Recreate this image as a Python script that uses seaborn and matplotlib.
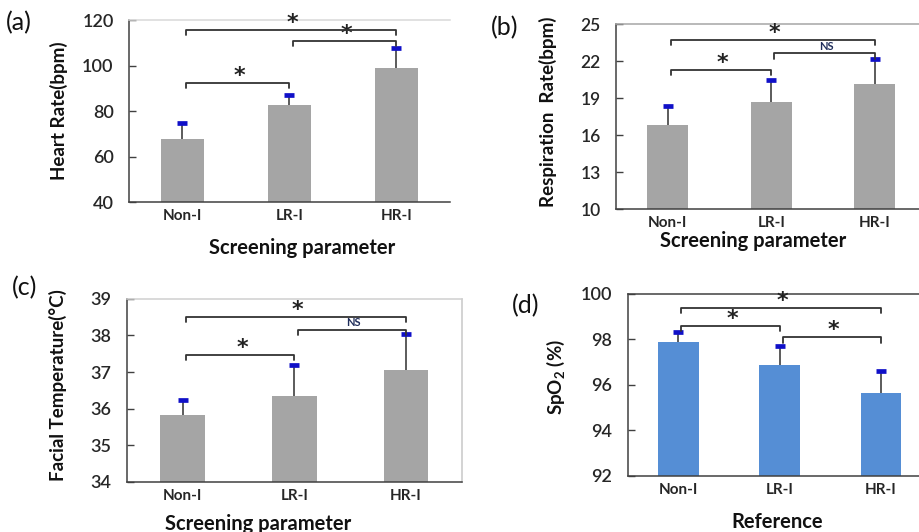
import numpy as np
import pandas as pd
import seaborn as sns
import matplotlib.pyplot as plt

# datos
groups = ["Non-I", "LR-I", "HR-I"]

hr_mean = [67.6, 82.6, 98.9]
hr_err = [7.3, 4.4, 8.7]
rr_mean = [16.8, 18.7, 20.1]
rr_err = [1.55, 1.75, 2.1]
ft_mean = [35.83, 36.35, 37.05]
ft_err = [0.42, 0.84, 0.98]
spo2_mean = [97.87, 96.87, 95.64]
spo2_err = [0.44, 0.84, 0.97]

# corchetes de significancia: (grupo1, grupo2, altura, etiqueta)
hr_sig = [(0, 1, 92.4, "*"), (0, 2, 115.6, "*"), (1, 2, 110.8, "*")]
rr_sig = [(0, 1, 21.27, "*"), (0, 2, 23.7, "*"), (1, 2, 22.62, "NS")]
ft_sig = [(0, 1, 37.46, "*"), (0, 2, 38.51, "*"), (1, 2, 38.16, "NS")]
spo2_sig = [(0, 2, 99.38, "*"), (0, 1, 98.58, "*"), (1, 2, 98.09, "*")]

hr_ticks = [40, 60, 80, 100, 120]
rr_ticks = [10, 13, 16, 19, 22, 25]
ft_ticks = [34, 35, 36, 37, 38, 39]
spo2_ticks = [92, 94, 96, 98, 100]

sns.set_theme(style="white")
plt.rcParams['font.family'] = ['Lato', 'DejaVu Sans']
plt.rcParams['mathtext.fontset'] = 'custom'
plt.rcParams['mathtext.rm'] = 'Lato:bold'
plt.rcParams['mathtext.it'] = 'Lato:bold'

fig = plt.figure(figsize=(9.2, 5.32), dpi=100)

panels = [
    # pos, media, error, sig, ticks, ylabel, xlabel, color, letra, pos letra,
    # borde sup, borde der, tam ticks, pos ylabel, pos xlabel
    ([0.1402, 0.6203, 0.3489, 0.3421], hr_mean, hr_err, hr_sig, hr_ticks,
     "Heart Rate(bpm)", "Screening parameter", "#a5a5a5", "(a)", (0.006, 0.958),
     "#d9d9d9", None, 13, (-0.19, 0.5), (0.54, -0.20)),
    ([0.6696, 0.6071, 0.3375, 0.3477], rr_mean, rr_err, rr_sig, rr_ticks,
     "Respiration  Rate(bpm)", "Screening parameter", "#a5a5a5", "(b)", (0.534, 0.948),
     "#a6a6a6", None, 12.5, (-0.19, 0.527), (0.443, -0.12)),
    ([0.1380, 0.0940, 0.3641, 0.3445], ft_mean, ft_err, ft_sig, ft_ticks,
     "Facial Temperature(°C)", "Screening parameter", "#a5a5a5", "(c)", (0.013, 0.460),
     "#d0d0d0", "#c8c8c8", 13, (-0.179, 0.529), (0.393, -0.172)),
    ([0.6823, 0.1053, 0.3304, 0.3421], spo2_mean, spo2_err, spo2_sig, spo2_ticks,
     "SpO$_2$ (%)", "Reference", "#558ed5", "(d)", (0.556, 0.426),
     "#404040", None, 13, (-0.2, 0.541), (0.493, -0.20)),
]

for (pos, mean, err, sig, ticks, ylab, xlab, color, letter, lpos,
     topc, rightc, tsize, ylpos, xlpos) in panels:
    ax = fig.add_axes(pos)
    df = pd.DataFrame({"group": groups, "value": mean})
    sns.barplot(data=df, x="group", y="value", color=color, width=0.4,
                saturation=1, edgecolor="none", ax=ax)

    # error superior con tapa azul
    x = np.arange(len(groups))
    tops = np.array(mean) + np.array(err)
    ax.vlines(x, mean, tops, color="#404040", lw=1.2, zorder=3)
    ax.plot(x, tops, ls="none", marker="_", ms=7.5, mew=3.4, color="#1010c8", zorder=4)

    ylo, yhi = ticks[0], ticks[-1]
    ax.set_ylim(ylo, yhi)
    ax.set_xlim(-0.5, 2.5)
    drop = (yhi - ylo) * 0.028
    for g1, g2, h, lab in sig:
        ax.plot([g1 + 0.03, g1 + 0.03, g2, g2], [h - drop, h, h, h - drop],
                color="#333333", lw=1.3, solid_joinstyle="round", zorder=5)
        if lab == "*":
            ax.annotate(lab, ((g1 + g2) / 2 + 0.03, h), xytext=(0, 5), textcoords="offset points",
                        ha="center", va="center", fontsize=16, fontweight="bold",
                        color="#222222", family=["DejaVu Sans"])
        else:
            ax.annotate(lab, ((g1 + g2) / 2 + 0.03, h), xytext=(0, 5), textcoords="offset points",
                        ha="center", va="center", fontsize=8, fontweight="bold",
                        color="#1f2d5a")

    ax.set_yticks(ticks)
    ax.set_yticklabels([str(t) for t in ticks], fontsize=tsize, fontweight="semibold")
    ax.set_xticks(x)
    ax.set_xticklabels(groups, fontsize=11, fontweight="bold")
    ax.tick_params(axis="y", direction="in", length=5, width=1, color="#404040", pad=11, left=True)
    ax.tick_params(axis="x", length=0, pad=5)
    ax.set_xlabel(xlab, fontsize=14.5, fontweight="bold", color="#111111", va="top")
    ax.set_ylabel(ylab, fontsize=13.5, fontweight="bold", color="#111111")
    ax.xaxis.set_label_coords(*xlpos)
    ax.yaxis.set_label_coords(*ylpos)

    ax.spines["left"].set_color("#404040")
    ax.spines["bottom"].set_color("#404040")
    ax.spines["left"].set_linewidth(1.1)
    ax.spines["bottom"].set_linewidth(1.1)
    ax.spines["top"].set_color(topc)
    ax.spines["top"].set_linewidth(1.1)
    if rightc is None:
        ax.spines["right"].set_visible(False)
    else:
        ax.spines["right"].set_color(rightc)
        ax.spines["right"].set_linewidth(1.1)

    fig.text(lpos[0], lpos[1], letter, fontsize=18, ha="left", va="center", color="#111111")

fig.savefig("out.png", dpi=100)
